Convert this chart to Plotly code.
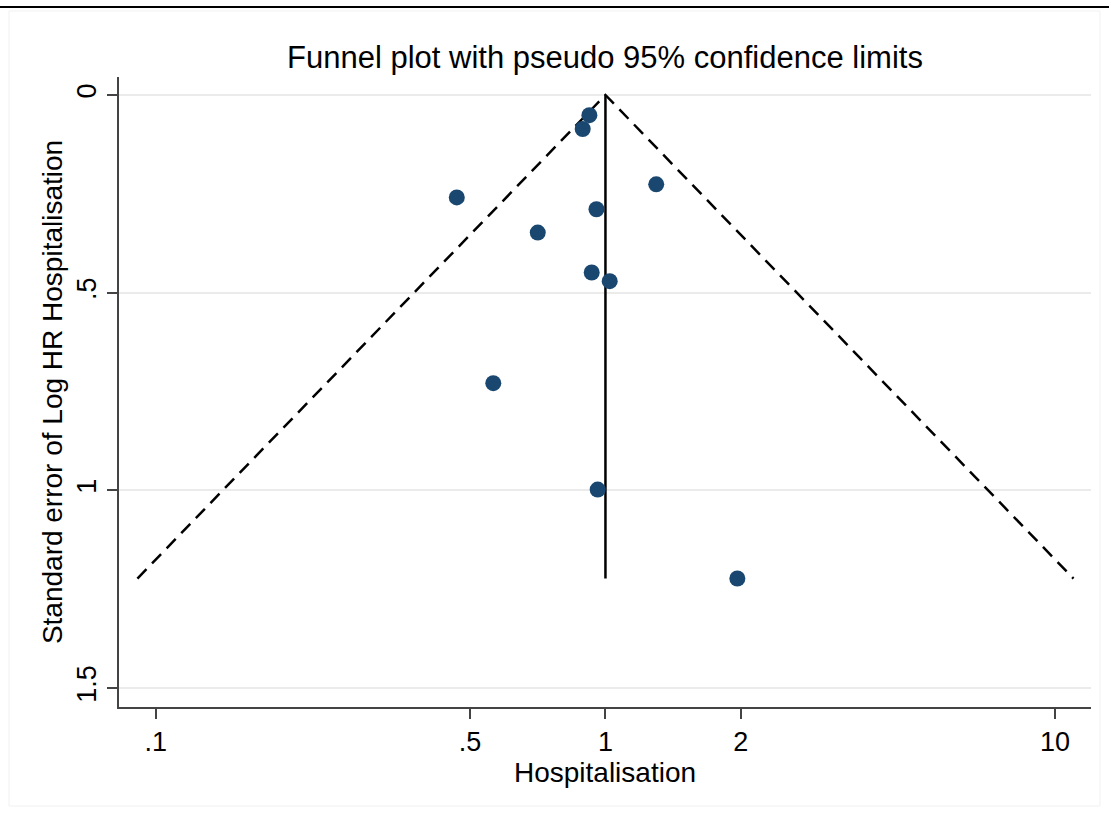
import numpy as np
import plotly.graph_objects as go

# study estimates
hr = [0.921, 0.890, 1.297, 0.467, 0.955, 0.707, 0.932, 1.022, 0.563, 0.961, 1.965]
se = [0.051, 0.086, 0.226, 0.259, 0.289, 0.348, 0.449, 0.471, 0.729, 0.998, 1.223]

pooled_hr = 1.0
x_ticks = [0.1, 0.5, 1, 2, 10]
x_labels = [".1", ".5", "1", "2", "10"]
y_ticks = [0, 0.5, 1, 1.5]
y_labels = ["0", ".5", "1", "1.5"]

se_max = max(se)
lower = np.exp(np.log(pooled_hr) - 1.96 * se_max)
upper = np.exp(np.log(pooled_hr) + 1.96 * se_max)

W, H = 1109, 814
L, R, T, B = 119, 18, 77, 107
pw, ph = W - L - R, H - T - B


def px(x):
    return (x - L) / pw


def py(y):
    return (H - B - y) / ph


fig = go.Figure()

# pseudo 95% limits
fig.add_trace(go.Scatter(
    x=[lower, pooled_hr, upper], y=[se_max, 0, se_max],
    mode="lines", line=dict(color="black", width=2.5, dash="13px,8px"),
    hoverinfo="skip", showlegend=False))

# pooled estimate
fig.add_trace(go.Scatter(
    x=[pooled_hr, pooled_hr], y=[0, se_max],
    mode="lines", line=dict(color="black", width=2.5),
    hoverinfo="skip", showlegend=False))

fig.add_trace(go.Scatter(
    x=hr, y=se, mode="markers",
    marker=dict(color="#1a476f", size=16),
    showlegend=False))

font = "Liberation Sans, Arial, Helvetica, sans-serif"

fig.update_layout(
    width=W, height=H,
    margin=dict(l=L, r=R, t=T, b=B),
    paper_bgcolor="white", plot_bgcolor="white",
    font=dict(family=font, color="black"),
    title=dict(text="Funnel plot with pseudo 95% confidence limits",
               x=px(605), xref="paper", xanchor="center",
               y=1 - 57 / H, yanchor="middle",
               font=dict(size=31, color="black")),
    xaxis=dict(
        type="log", range=[-1.082, 1.080],
        tickvals=x_ticks, ticktext=x_labels,
        ticks="outside", ticklen=10, tickwidth=1.5, tickcolor="#444",
        tickfont=dict(size=27),
        showgrid=False, zeroline=False,
        showline=True, linecolor="#444", linewidth=1.5,
        title=dict(text="Hospitalisation", font=dict(size=28), standoff=1),
    ),
    yaxis=dict(
        range=[1.548, -0.0455],
        tickvals=y_ticks, ticktext=y_labels, tickangle=-90,
        ticks="outside", ticklen=10, tickwidth=1.5, tickcolor="#444",
        tickfont=dict(size=27),
        showgrid=True, gridcolor="#ebebeb", gridwidth=1.5,
        zeroline=False,
        showline=True, linecolor="#444", linewidth=1.5,
        title=dict(text="Standard error of Log HR Hospitalisation",
                   font=dict(size=28), standoff=2),
    ),
    shapes=[
        # page rule at top of the screenshot
        dict(type="line", xref="paper", yref="paper",
             x0=px(0), x1=px(W), y0=py(7), y1=py(7),
             line=dict(color="black", width=2)),
        # faint graph region border
        dict(type="rect", xref="paper", yref="paper",
             x0=px(9), x1=px(1100), y0=py(806), y1=py(11),
             line=dict(color="#f1f1f1", width=1)),
    ],
)

fig.write_html("out.html", config={"displayModeBar": False},
               post_script="document.body.style.margin='0';")
